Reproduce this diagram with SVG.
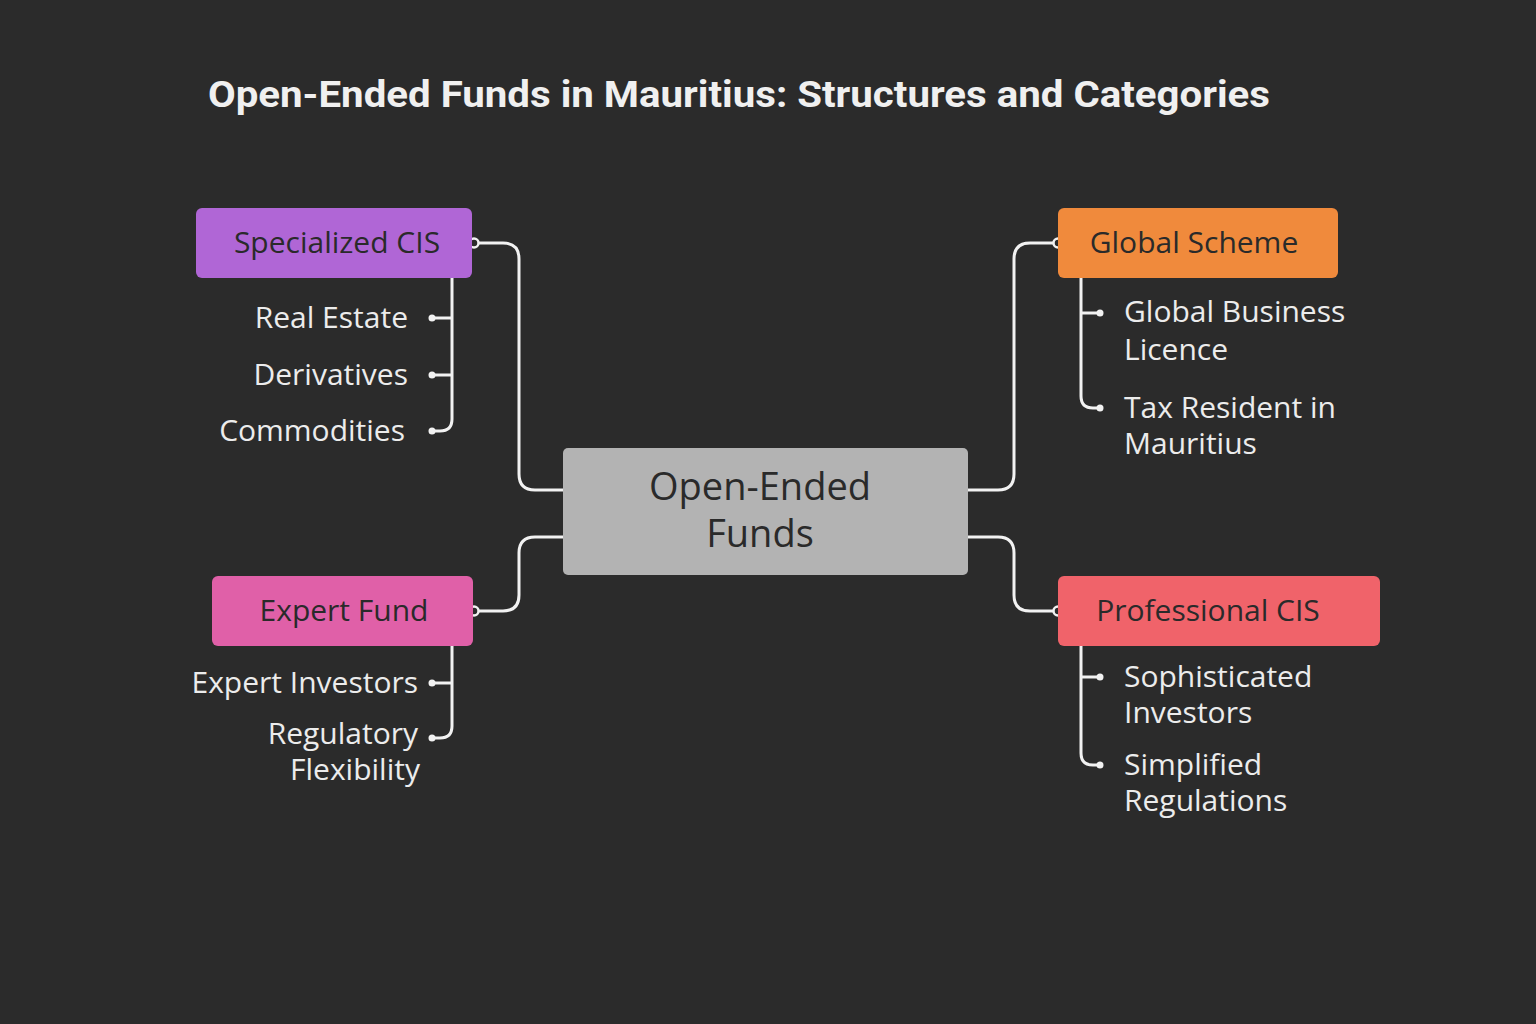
<svg xmlns="http://www.w3.org/2000/svg" width="1536" height="1024" viewBox="0 0 1536 1024">
<style>
.t{font-family:Roboto,"Liberation Sans",sans-serif;}
.lbl{font-family:"Open Sans","Liberation Sans",sans-serif;font-size:30px;fill:#ececec;}
.nt{font-family:"Open Sans","Liberation Sans",sans-serif;font-size:30px;fill:#2a2a2a;text-anchor:middle;}
.big{font-size:38px;}
.ln{fill:none;stroke:#f2f2f2;stroke-width:3;}
.dot{fill:#2b2b2b;stroke:#f2f2f2;stroke-width:2.5;}
.sd{fill:#f2f2f2;}
</style>
<rect width="1536" height="1024" fill="#2b2b2b"/>
<text class="t" x="208" y="107" font-size="37" font-weight="bold" fill="#f0f0f0" textLength="1062" lengthAdjust="spacingAndGlyphs">Open-Ended Funds in Mauritius: Structures and Categories</text>
<g id="connectors">
<path class="ln" d="M563,490 H535 Q519,490 519,474 V259 Q519,243 503,243 H474"/>
<path class="ln" d="M563,537 H535 Q519,537 519,553 V595 Q519,611 503,611 H474"/>
<path class="ln" d="M968,490 H998 Q1014,490 1014,474 V259 Q1014,243 1030,243 H1058"/>
<path class="ln" d="M968,537 H998 Q1014,537 1014,553 V595 Q1014,611 1030,611 H1058"/>
<circle class="dot" cx="474" cy="243" r="4.5"/>
<circle class="dot" cx="474" cy="611" r="4.5"/>
<circle class="dot" cx="1058" cy="243" r="4.5"/>
<circle class="dot" cx="1058" cy="611" r="4.5"/>
<path class="ln" d="M452,278 V419 Q452,431 440,431 H432 M452,318 H432 M452,375 H432"/>
<path class="ln" d="M452,646 V726 Q452,738 440,738 H432 M452,683 H432"/>
<path class="ln" d="M1081,278 V396 Q1081,408 1093,408 H1100 M1081,313 H1100"/>
<path class="ln" d="M1081,646 V753 Q1081,765 1093,765 H1100 M1081,677 H1100"/>
<circle class="sd" cx="432" cy="318" r="3.5"/><circle class="sd" cx="432" cy="375" r="3.5"/><circle class="sd" cx="432" cy="431" r="3.5"/>
<circle class="sd" cx="432" cy="683" r="3.5"/><circle class="sd" cx="432" cy="738" r="3.5"/>
<circle class="sd" cx="1100" cy="313" r="3.5"/><circle class="sd" cx="1100" cy="408" r="3.5"/>
<circle class="sd" cx="1100" cy="677" r="3.5"/><circle class="sd" cx="1100" cy="765" r="3.5"/>
</g>
<g id="center"><rect x="563" y="448" width="405" height="127" rx="5" fill="#b3b3b3"/>
<text class="nt big" x="760" y="500">Open-Ended</text><text class="nt big" x="760" y="547">Funds</text></g>
<g id="specialized"><rect x="196" y="208" width="276" height="70" rx="6" fill="#b066d6"/><text class="nt" x="337" y="253">Specialized CIS</text></g>
<g id="global"><rect x="1058" y="208" width="280" height="70" rx="6" fill="#f08a3c"/><text class="nt" x="1194" y="253">Global Scheme</text></g>
<g id="expert"><rect x="212" y="576" width="261" height="70" rx="6" fill="#e060a8"/><text class="nt" x="344" y="621">Expert Fund</text></g>
<g id="professional"><rect x="1058" y="576" width="322" height="70" rx="6" fill="#f0636a"/><text class="nt" x="1208" y="621">Professional CIS</text></g>
<g id="spec-children">
<text class="lbl" x="408" y="328" text-anchor="end">Real Estate</text>
<text class="lbl" x="408" y="385" text-anchor="end">Derivatives</text>
<text class="lbl" x="405" y="441" text-anchor="end">Commodities</text></g>
<g id="expert-children">
<text class="lbl" x="418" y="693" text-anchor="end">Expert Investors</text>
<text class="lbl" x="418" y="744" text-anchor="end">Regulatory</text>
<text class="lbl" x="420" y="780" text-anchor="end">Flexibility</text></g>
<g id="global-children">
<text class="lbl" x="1124" y="322">Global Business</text><text class="lbl" x="1124" y="360">Licence</text>
<text class="lbl" x="1124" y="418">Tax Resident in</text><text class="lbl" x="1124" y="454">Mauritius</text></g>
<g id="prof-children">
<text class="lbl" x="1124" y="687">Sophisticated</text><text class="lbl" x="1124" y="723">Investors</text>
<text class="lbl" x="1124" y="775">Simplified</text><text class="lbl" x="1124" y="811">Regulations</text></g>
</svg>
